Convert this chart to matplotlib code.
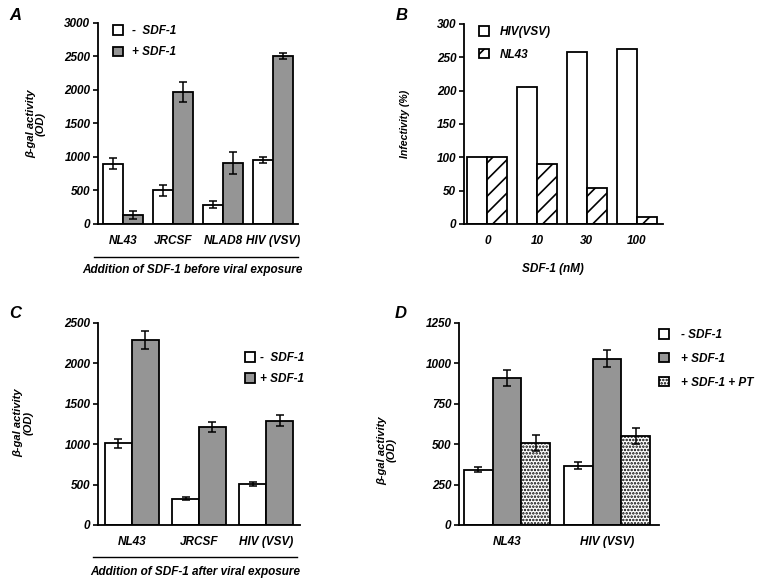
import numpy as np
import matplotlib
matplotlib.use("Agg")
import matplotlib.pyplot as plt
from matplotlib.lines import Line2D

plt.rcParams['font.family'] = ['Liberation Sans', 'DejaVu Sans']
plt.rcParams['font.weight'] = 'bold'
plt.rcParams['font.style'] = 'italic'
plt.rcParams['axes.labelweight'] = 'bold'
plt.rcParams['hatch.linewidth'] = 1.2

# panel A
a_cats = ['NL43', 'JRCSF', 'NLAD8', 'HIV (VSV)']
a_minus = [900, 500, 290, 950]
a_minus_err = [80, 85, 50, 45]
a_plus = [135, 1975, 905, 2505]
a_plus_err = [60, 150, 165, 45]

# panel B
b_cats = ['0', '10', '30', '100']
b_hiv = [100, 205, 258, 262]
b_nl43 = [100, 90, 54, 10]

# panel C
c_cats = ['NL43', 'JRCSF', 'HIV (VSV)']
c_minus = [1012, 326, 510]
c_minus_err = [55, 22, 27]
c_plus = [2285, 1210, 1292]
c_plus_err = [112, 64, 64]

# panel D
d_cats = ['NL43', 'HIV (VSV)']
d_minus = [343, 367]
d_minus_err = [16, 20]
d_plus = [911, 1029]
d_plus_err = [48, 54]
d_pt = [506, 551]
d_pt_err = [50, 51]

GRAY = '#959595'
FS = 8.5
LW = 1.3

fig = plt.figure(figsize=(7.64, 5.83), dpi=100)


def style(ax, ymax, step):
    for s in ['top', 'right']:
        ax.spines[s].set_visible(False)
    for s in ['left', 'bottom']:
        ax.spines[s].set_linewidth(1.3)
    ax.set_ylim(0, ymax)
    ax.set_yticks(np.arange(0, ymax + 1, step))
    ax.tick_params(axis='y', direction='out', length=3.5, width=1.2, labelsize=FS, pad=2)
    ax.tick_params(axis='x', length=0, labelsize=FS, pad=8)


def legend(ax, handles, labels, x, y, tpad, lsp):
    ax.legend(handles, labels, loc='upper left', bbox_to_anchor=(x, y), frameon=False,
              borderpad=0, borderaxespad=0, handlelength=0.85, handleheight=0.85,
              handletextpad=tpad, labelspacing=lsp, fontsize=FS)


eb = dict(ecolor='black', elinewidth=1.1, capsize=2.8, capthick=1.1)

# ---- A ----
axA = fig.add_axes([0.1283, 0.6158, 0.2618, 0.3448])
x = np.arange(len(a_cats))
w = 0.4
hA1 = axA.bar(x - w / 2, a_minus, w, yerr=a_minus_err, color='white', edgecolor='black', linewidth=LW, error_kw=eb)
hA2 = axA.bar(x + w / 2, a_plus, w, yerr=a_plus_err, color=GRAY, edgecolor='black', linewidth=LW, error_kw=eb)
axA.set_xlim(-0.5, 3.5)
axA.set_xticks(x)
axA.set_xticklabels(a_cats)
style(axA, 3000, 500)
axA.set_ylabel('β-gal activity\n(OD)', fontsize=8, linespacing=1.0)
axA.yaxis.set_label_coords(-0.26, 0.5)
legend(axA, [hA1, hA2], ['-  SDF-1', '+ SDF-1'], 0.075, 0.99, 0.75, 0.8)
axA.add_line(Line2D([-0.02, 1.0], [-0.164, -0.164], transform=axA.transAxes, color='black', lw=1.0, clip_on=False))
axA.text(0.47, -0.229, 'Addition of SDF-1 before viral exposure', transform=axA.transAxes,
         ha='center', va='center', fontsize=FS)
fig.text(0.0196, 0.974, 'A', fontsize=12, ha='center', va='center')

# ---- B ----
axB = fig.add_axes([0.6073, 0.6158, 0.2605, 0.3431])
x = np.arange(len(b_cats))
hB1 = axB.bar(x - w / 2, b_hiv, w, color='white', edgecolor='black', linewidth=LW)
hB2 = axB.bar(x + w / 2, b_nl43, w, color='white', edgecolor='black', linewidth=LW, hatch='//')
axB.set_xlim(-0.47, 3.53)
axB.set_xticks(x)
axB.set_xticklabels(b_cats)
style(axB, 300, 50)
axB.set_ylabel('Infectivity (%)', fontsize=7.6)
axB.yaxis.set_label_coords(-0.27, 0.5)
axB.set_xlabel('SDF-1 (nM)', fontsize=FS)
axB.xaxis.set_label_coords(0.447, -0.195)
legend(axB, [hB1, hB2], ['HIV(VSV)', 'NL43'], 0.075, 0.99, 0.95, 0.9)
fig.text(0.526, 0.974, 'B', fontsize=12, ha='center', va='center')

# ---- C ----
axC = fig.add_axes([0.1283, 0.0995, 0.2644, 0.3465])
x = np.arange(len(c_cats))
hC1 = axC.bar(x - w / 2, c_minus, w, yerr=c_minus_err, color='white', edgecolor='black', linewidth=LW, error_kw=eb)
hC2 = axC.bar(x + w / 2, c_plus, w, yerr=c_plus_err, color=GRAY, edgecolor='black', linewidth=LW, error_kw=eb)
axC.set_xlim(-0.5, 2.5)
axC.set_xticks(x)
axC.set_xticklabels(c_cats)
style(axC, 2500, 500)
axC.set_ylabel('β-gal activity\n(OD)', fontsize=8, linespacing=1.0)
axC.yaxis.set_label_coords(-0.32, 0.505)
legend(axC, [hC1, hC2], ['-  SDF-1', '+ SDF-1'], 0.728, 0.855, 0.45, 0.75)
axC.add_line(Line2D([-0.025, 0.985], [-0.158, -0.158], transform=axC.transAxes, color='black', lw=1.0, clip_on=False))
axC.text(0.48, -0.233, 'Addition of SDF-1 after viral exposure', transform=axC.transAxes,
         ha='center', va='center', fontsize=FS)
fig.text(0.0196, 0.463, 'C', fontsize=12, ha='center', va='center')

# ---- D ----
axD = fig.add_axes([0.6008, 0.0995, 0.2618, 0.3465])
x = np.arange(len(d_cats))
w3 = 0.287
hD1 = axD.bar(x - w3, d_minus, w3, yerr=d_minus_err, color='white', edgecolor='black', linewidth=LW, error_kw=eb)
hD2 = axD.bar(x, d_plus, w3, yerr=d_plus_err, color=GRAY, edgecolor='black', linewidth=LW, error_kw=eb)
hD3 = axD.bar(x + w3, d_pt, w3, yerr=d_pt_err, color='white', edgecolor='black', linewidth=LW, hatch='.....', error_kw=eb)
axD.set_xlim(-0.48, 1.52)
axD.set_xticks(x)
axD.set_xticklabels(d_cats)
style(axD, 1250, 250)
axD.set_ylabel('β-gal activity\n(OD)', fontsize=8, linespacing=1.0)
axD.yaxis.set_label_coords(-0.31, 0.37)
legend(axD, [hD1, hD2, hD3], ['- SDF-1', '+ SDF-1', '+ SDF-1 + PT'], 1.0, 0.97, 1.0, 1.0)
fig.text(0.524, 0.463, 'D', fontsize=12, ha='center', va='center')

fig.savefig('out.png', dpi=100)
